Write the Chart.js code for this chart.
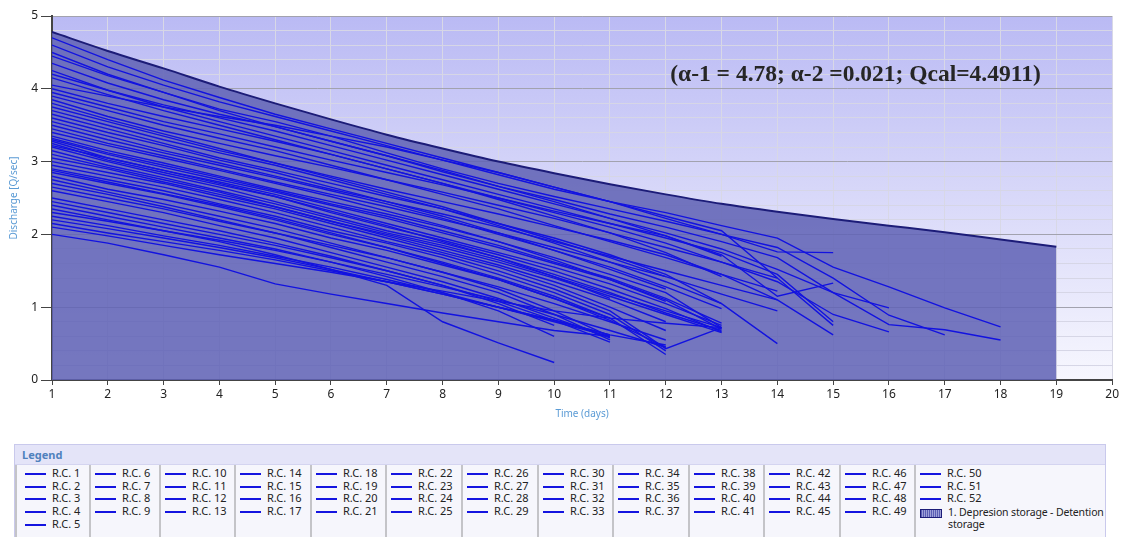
<!DOCTYPE html>
<html>
<head>
<meta charset="utf-8">
<script src="https://cdn.jsdelivr.net/npm/chart.js@4.4.1/dist/chart.umd.min.js"></script>
<style>
  body { margin: 0; width: 1121px; height: 537px; overflow: hidden; background: #fff; font-family: "Noto Sans", sans-serif; }
  #wrap { position: absolute; left: 0; top: 0; width: 1121px; height: 430px; }
  #legend { position: absolute; left: 14px; top: 444px; width: 1090px; height: 100px; border: 1px solid #c9c9ec; background: #f6f6fc; }
  #legend .title { height: 19px; background: #e4e4f8; border-bottom: 1px solid #d4d4f0; font-size: 11px; font-weight: bold; color: #4f81bd; padding-left: 7px; line-height: 20px; }
  .col { position: absolute; top: 20px; bottom: 0; padding-top: 2px; border-left: 2px solid #c4c4c8; box-sizing: border-box; }
  .col:first-of-type { border-left: none; }
  .item { height: 12.7px; font-size: 11px; line-height: 12.7px; color: #222; white-space: nowrap; }
  .sw { display: inline-block; width: 21px; height: 2px; background: #1414e0; vertical-align: middle; margin-right: 6px; }
  .store { display: flex; align-items: flex-start; font-size: 10.5px; letter-spacing: -0.15px; line-height: 12px; color: #222; margin-top: 1px; }
  .store .box { flex: none; width: 20px; height: 7px; margin: 3px 6px 0 0; border: 1px solid #1c1c78;
    background: repeating-linear-gradient(90deg, #5a5eb4 0 1px, #9ea0d8 1px 2px); }
</style>
</head>
<body>
<div id="wrap"><canvas id="chart" width="1121" height="430"></canvas></div>
<div id="legend"><div class="title">Legend</div></div>
<script>
// time axis (days)
const days = [1, 2, 3, 4, 5, 6, 7, 8, 9, 10, 11, 12, 13, 14, 15, 16, 17, 18, 19, 20];

// envelope: depression storage - detention storage
const envelope = [4.78, 4.52, 4.28, 4.03, 3.80, 3.58, 3.37, 3.18, 3.00, 2.84, 2.69, 2.55, 2.42, 2.31, 2.21, 2.12, 2.03, 1.93, 1.83];
const storageLabel = "1. Depresion storage - Detention storage";
const noteText = "(\u03b1-1 = 4.78; \u03b1-2 =0.021; Qcal=4.4911)";

// recession curves R.C. 1 .. R.C. 52 (discharge per day, starting at day 1)
const recessionCurves = [
  [4.60, 4.30, 4.05, 3.82, 3.62, 3.42, 3.22, 3.02, 2.82, 2.62, 2.45, 2.30, 2.12, 1.95, 1.55, 1.28, 0.99, 0.73],
  [4.45, 4.18, 3.95, 3.72, 3.55, 3.35, 3.12, 2.90, 2.70, 2.52, 2.35, 2.18, 2.00, 1.82, 1.40, 0.89, 0.62],
  [4.35, 4.08, 3.85, 3.65, 3.48, 3.28, 3.08, 2.86, 2.66, 2.48, 2.28, 2.10, 1.90, 1.68, 1.20, 0.76, 0.69, 0.55],
  [4.25, 3.98, 3.78, 3.60, 3.42, 3.22, 3.02, 2.82, 2.62, 2.42, 2.22, 2.02, 1.80, 1.52, 1.20, 0.99],
  [4.15, 3.92, 3.70, 3.50, 3.30, 3.10, 2.90, 2.70, 2.50, 2.30, 2.10, 1.88, 1.62, 1.35, 0.90, 0.66],
  [4.05, 3.90, 3.75, 3.62, 3.50, 3.35, 3.20, 3.02, 2.85, 2.65, 2.45, 2.22, 2.00, 1.76, 1.75],
  [3.95, 3.75, 3.55, 3.38, 3.20, 3.02, 2.85, 2.68, 2.50, 2.32, 2.15, 1.98, 1.72, 1.15, 1.33],
  [3.85, 3.62, 3.42, 3.25, 3.08, 2.92, 2.75, 2.58, 2.40, 2.22, 2.02, 1.82, 1.62, 1.40, 0.75],
  [3.75, 3.55, 3.35, 3.15, 2.98, 2.80, 2.62, 2.45, 2.28, 2.10, 1.92, 1.72, 1.45, 1.10, 0.62],
  [3.65, 3.45, 3.25, 3.05, 2.88, 2.70, 2.52, 2.35, 2.15, 1.95, 1.72, 1.45, 1.05, 0.50],
  [3.55, 3.35, 3.15, 2.98, 2.80, 2.62, 2.45, 2.28, 2.10, 1.90, 1.70, 1.50, 1.30, 1.10],
  [3.45, 3.25, 3.08, 2.90, 2.72, 2.55, 2.38, 2.20, 2.02, 1.82, 1.62, 1.42, 1.18, 0.95],
  [3.35, 3.15, 2.98, 2.80, 2.62, 2.45, 2.28, 2.10, 1.90, 1.68, 1.45, 1.20, 0.72],
  [3.30, 3.10, 2.92, 2.75, 2.58, 2.40, 2.22, 2.02, 1.82, 1.60, 1.38, 1.10, 0.70],
  [3.28, 3.05, 2.88, 2.72, 2.55, 2.35, 2.15, 1.95, 1.75, 1.55, 1.32, 1.05, 0.75],
  [3.25, 3.02, 2.85, 2.68, 2.52, 2.30, 2.10, 1.92, 1.72, 1.50, 1.25, 0.98, 0.66],
  [3.20, 3.00, 2.82, 2.65, 2.45, 2.25, 2.05, 1.88, 1.68, 1.45, 1.20, 0.92, 0.68],
  [3.15, 2.95, 2.78, 2.60, 2.42, 2.22, 2.02, 1.85, 1.65, 1.42, 1.18, 0.95, 0.72],
  [3.10, 2.92, 2.75, 2.58, 2.38, 2.18, 2.00, 1.82, 1.62, 1.40, 1.15, 0.90, 0.65],
  [3.00, 2.85, 2.70, 2.52, 2.35, 2.15, 1.95, 1.75, 1.55, 1.30, 1.00, 0.68],
  [2.95, 2.80, 2.65, 2.48, 2.30, 2.10, 1.90, 1.72, 1.50, 1.25, 0.95, 0.43, 0.72],
  [2.90, 2.75, 2.60, 2.42, 2.25, 2.05, 1.88, 1.68, 1.45, 1.20, 0.90, 0.40],
  [2.85, 2.70, 2.55, 2.38, 2.20, 2.00, 1.82, 1.62, 1.40, 1.15, 0.85, 0.35],
  [2.80, 2.62, 2.48, 2.32, 2.15, 1.95, 1.78, 1.58, 1.38, 1.12, 0.82, 0.45],
  [2.75, 2.58, 2.42, 2.25, 2.08, 1.88, 1.68, 1.48, 1.25, 0.95, 0.60],
  [2.70, 2.55, 2.38, 2.20, 2.02, 1.82, 1.62, 1.42, 1.20, 0.90, 0.55],
  [2.60, 2.45, 2.30, 2.12, 1.95, 1.75, 1.55, 1.35, 1.12, 0.85, 0.58],
  [2.50, 2.35, 2.20, 2.05, 1.88, 1.70, 1.50, 1.30, 1.08, 0.82, 0.52],
  [2.40, 2.25, 2.10, 1.95, 1.80, 1.62, 1.42, 1.20, 0.95, 0.60],
  [2.35, 2.20, 2.05, 1.90, 1.72, 1.52, 1.30, 0.80, 0.51, 0.24],
  [2.30, 2.18, 2.05, 1.92, 1.78, 1.62, 1.45, 1.28, 1.10, 0.90, 0.68, 0.45],
  [2.25, 2.12, 1.98, 1.85, 1.70, 1.55, 1.38, 1.20, 1.00, 0.80, 0.60],
  [2.20, 2.08, 1.95, 1.82, 1.68, 1.52, 1.35, 1.18, 1.00, 0.82, 0.62, 0.48],
  [2.00, 1.88, 1.72, 1.55, 1.32, 1.18, 1.05, 0.92, 0.80, 0.68, 0.60],
  [2.10, 1.98, 1.85, 1.72, 1.60, 1.48, 1.35, 1.22, 1.08, 0.95, 0.85, 0.78, 0.72],
  [4.70, 4.40, 4.12, 3.88, 3.65, 3.45, 3.25, 3.05, 2.85, 2.65, 2.45, 2.25, 2.05, 1.40],
  [4.50, 4.20, 3.95, 3.70, 3.48, 3.28, 3.08, 2.88, 2.66, 2.45, 2.22, 1.98, 1.70],
  [4.00, 3.80, 3.62, 3.45, 3.28, 3.10, 2.90, 2.70, 2.48, 2.25, 2.02, 1.75, 1.42],
  [3.90, 3.70, 3.50, 3.32, 3.15, 2.95, 2.75, 2.55, 2.35, 2.12, 1.90, 1.68, 1.45, 1.22],
  [3.80, 3.58, 3.38, 3.18, 2.98, 2.78, 2.58, 2.38, 2.15, 1.92, 1.68, 1.42],
  [3.70, 3.50, 3.30, 3.12, 2.95, 2.75, 2.55, 2.35, 2.12, 1.88, 1.62, 1.35, 1.05],
  [3.60, 3.40, 3.22, 3.02, 2.85, 2.65, 2.45, 2.25, 2.02, 1.78, 1.52, 1.25],
  [3.50, 3.30, 3.12, 2.95, 2.78, 2.60, 2.42, 2.22, 2.00, 1.78, 1.55, 1.28, 0.98],
  [3.40, 3.22, 3.05, 2.88, 2.70, 2.52, 2.32, 2.12, 1.90, 1.65, 1.38, 1.08],
  [3.32, 3.12, 2.95, 2.78, 2.60, 2.42, 2.25, 2.05, 1.85, 1.62, 1.40, 1.12, 0.78],
  [3.22, 3.05, 2.88, 2.70, 2.52, 2.32, 2.12, 1.90, 1.68, 1.42, 1.12],
  [3.05, 2.90, 2.72, 2.55, 2.38, 2.18, 1.98, 1.78, 1.58, 1.35, 1.10, 0.80],
  [2.88, 2.72, 2.56, 2.40, 2.22, 2.02, 1.82, 1.60, 1.38, 1.12, 0.85],
  [2.65, 2.50, 2.35, 2.18, 2.02, 1.85, 1.68, 1.48, 1.28, 1.05, 0.80, 0.55],
  [4.20, 3.98, 3.75, 3.55, 3.35, 3.15, 2.95, 2.75, 2.55, 2.35, 2.15, 1.95, 1.75, 1.45, 0.80],
  [2.45, 2.30, 2.15, 2.00, 1.85, 1.68, 1.50, 1.30, 1.05, 0.75],
  [2.15, 2.02, 1.90, 1.78, 1.65, 1.50, 1.35, 1.18, 1.00, 0.82, 0.62]
];

const isMajor = v => Math.abs(v - Math.round(v)) < 1e-6;
const tickFont = { family: "Noto Sans", size: 12 };

const datasets = recessionCurves.map((vals, i) => ({
  label: "R.C. " + (i + 1),
  data: vals.map((v, k) => ({ x: days[k], y: v })),
  borderColor: "#1212e0",
  borderWidth: 1.4,
  pointRadius: 0,
  fill: false,
  order: 0
}));

datasets.push({
  label: storageLabel,
  data: envelope.map((v, k) => ({ x: days[k], y: v })),
  borderColor: "#1c1c78",
  borderWidth: 2,
  backgroundColor: "rgba(95,98,180,0.86)",
  fill: "origin",
  pointRadius: 0,
  cubicInterpolationMode: "monotone",
  order: 1
});

// gradient behind the plot area
const plotBg = {
  id: "plotBg",
  beforeDraw(chart) {
    const { ctx, chartArea: a } = chart;
    const g = ctx.createLinearGradient(0, a.top, 0, a.bottom);
    g.addColorStop(0, "#babaf4");
    g.addColorStop(1, "#f7f7fe");
    ctx.save();
    ctx.fillStyle = g;
    ctx.fillRect(a.left, a.top, a.right - a.left, a.bottom - a.top);
    ctx.restore();
  }
};

// fitted parameters note
const note = {
  id: "note",
  afterDatasetsDraw(chart) {
    const { ctx, scales } = chart;
    ctx.save();
    ctx.font = "bold 21px 'Liberation Serif', serif";
    const w = ctx.measureText(noteText).width;
    const size = Math.min(24, 21 * 370 / w);
    ctx.font = "bold " + size.toFixed(1) + "px 'Liberation Serif', serif";
    ctx.fillStyle = "#262626";
    ctx.textBaseline = "middle";
    ctx.fillText(noteText, scales.x.getPixelForValue(12.08), scales.y.getPixelForValue(4.19));
    ctx.restore();
  }
};

new Chart(document.getElementById("chart"), {
  type: "line",
  data: { datasets },
  plugins: [plotBg, note],
  options: {
    responsive: false,
    animation: false,
    layout: { padding: { left: 0, top: 16, right: 6, bottom: 0 } },
    plugins: { legend: { display: false }, tooltip: { enabled: false } },
    elements: { line: { tension: 0 } },
    scales: {
      x: {
        type: "linear",
        min: 1,
        max: 20,
        afterBuildTicks: s => { s.ticks = days.map(v => ({ value: v })); },
        afterFit: s => { s.height = 50; },
        ticks: { color: "#222", font: tickFont, padding: 2, maxRotation: 0, autoSkip: false },
        grid: { color: "#d8d8e6", tickLength: 5, tickColor: "#444" },
        border: { color: "#444", width: 2 },
        title: { display: true, text: "Time (days)", color: "#5b9bd5", font: { family: "Noto Sans", size: 10 }, padding: { top: 0, bottom: 10 } }
      },
      y: {
        min: 0,
        max: 5,
        afterFit: s => { s.width = 52; },
        ticks: {
          stepSize: 0.2,
          autoSkip: false,
          color: "#222",
          font: tickFont,
          padding: 3,
          callback: v => isMajor(v) ? Math.round(v) : ""
        },
        grid: {
          color: c => isMajor(c.tick.value) ? "#a2a2ae" : "#d6d6e6",
          tickColor: c => isMajor(c.tick.value) ? "#444" : "rgba(0,0,0,0)",
          tickLength: 11
        },
        border: { color: "#444", width: 2 },
        title: { display: true, text: "Discharge [Q/sec]", color: "#5b9bd5", font: { family: "Noto Sans", size: 10 }, padding: { top: 8, bottom: 0 } }
      }
    }
  }
});

// legend box with 13 columns
const colStarts = [0, 74, 144, 219, 295, 370, 446, 522, 597, 673, 748, 824, 899, 1090];
const groups = [[1, 5], [6, 9], [10, 13], [14, 17], [18, 21], [22, 25], [26, 29], [30, 33], [34, 37], [38, 41], [42, 45], [46, 49], [50, 52]];
const legend = document.getElementById("legend");
groups.forEach(([a, b], ci) => {
  const col = document.createElement("div");
  col.className = "col";
  col.style.left = colStarts[ci] + "px";
  col.style.width = (colStarts[ci + 1] - colStarts[ci]) + "px";
  col.style.paddingLeft = (ci === 0 ? 8 : 4) + "px";
  for (let n = a; n <= b; n++) {
    const it = document.createElement("div");
    it.className = "item";
    it.innerHTML = '<span class="sw"></span>' + datasets[n - 1].label;
    col.appendChild(it);
  }
  if (ci === groups.length - 1) {
    const st = document.createElement("div");
    st.className = "store";
    st.innerHTML = '<span class="box"></span><span style="width:160px">' + storageLabel + "</span>";
    col.appendChild(st);
  }
  legend.appendChild(col);
});
</script>
</body>
</html>
